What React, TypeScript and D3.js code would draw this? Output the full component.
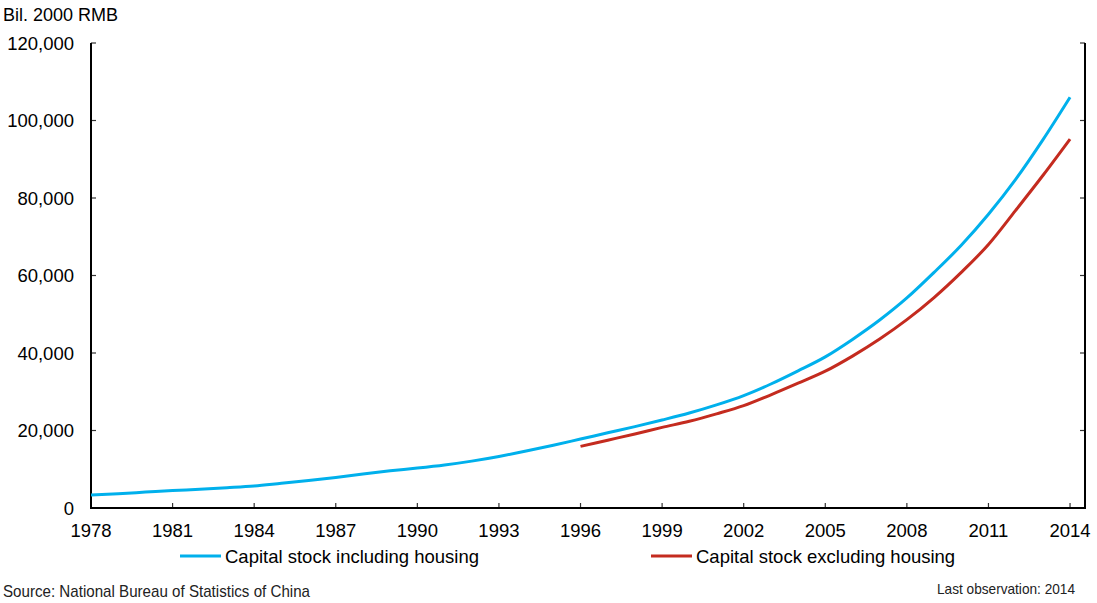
import React, { useEffect, useRef } from 'react';
import * as d3 from 'd3';

const years = d3.range(1978, 2015);

// Bil. 2000 RMB
const withHousing = [
  3350, 3700, 4100, 4500, 4850, 5250, 5700, 6400, 7100, 7900,
  8800, 9600, 10300, 11100, 12100, 13300, 14700, 16200, 17800, 19400,
  21000, 22700, 24500, 26600, 29000, 32000, 35400, 39000, 43500, 48500,
  54200, 60800, 67800, 75800, 84800, 95000, 106000,
];

const excludingYears = d3.range(1996, 2015);
const withoutHousing = [
  15900, 17500, 19100, 20800, 22400, 24300, 26400, 29200, 32200, 35300,
  39200, 43600, 48600, 54300, 60800, 68000, 76800, 85800, 95200,
];

const xTicks = d3.range(1978, 2015, 3);
const yTicks = [0, 20000, 40000, 60000, 80000, 100000, 120000];

const BLUE = '#00b0ec';
const RED = '#c42b1f';
const FONT = 'Liberation Sans, Arial, sans-serif';

const App: React.FC = () => {
  const svgRef = useRef<SVGSVGElement>(null);

  useEffect(() => {
    if (!svgRef.current) return;
    const width = 1097;
    const height = 603;
    const left = 91;
    const right = 1085;
    const top = 43;
    const bottom = 508;

    const svg = d3.select(svgRef.current)
      .attr('width', width)
      .attr('height', height)
      .html('');

    const x = d3.scaleLinear().domain([1978, 2014.55]).range([left, right]);
    const y = d3.scaleLinear().domain([0, 120000]).range([bottom, top]);

    // ticks
    const yt = svg.append('g');
    yTicks.forEach(t => {
      yt.append('line')
        .attr('x1', left).attr('x2', left + 5)
        .attr('y1', y(t)).attr('y2', y(t))
        .attr('stroke', '#333').attr('stroke-width', 1.2);
      yt.append('line')
        .attr('x1', right).attr('x2', right - 5)
        .attr('y1', y(t)).attr('y2', y(t))
        .attr('stroke', '#333').attr('stroke-width', 1.2);
      yt.append('text')
        .attr('x', 74)
        .attr('y', y(t) + 6.5)
        .attr('text-anchor', 'end')
        .attr('font-family', FONT)
        .attr('font-size', 18.5)
        .attr('fill', '#000')
        .text(d3.format(',')(t));
    });

    xTicks.forEach(t => {
      svg.append('line')
        .attr('x1', x(t)).attr('x2', x(t))
        .attr('y1', bottom).attr('y2', bottom - 5)
        .attr('stroke', '#333').attr('stroke-width', 1.2);
      svg.append('text')
        .attr('x', x(t))
        .attr('y', 537)
        .attr('text-anchor', 'middle')
        .attr('font-family', FONT)
        .attr('font-size', 18.5)
        .attr('fill', '#000')
        .text(t);
    });

    // axis frame: left, bottom, right
    svg.append('path')
      .attr('d', `M${left},${top}V${bottom}H${right}V${top}`)
      .attr('fill', 'none')
      .attr('stroke', '#000')
      .attr('stroke-width', 2);

    const line = d3.line<[number, number]>()
      .x(d => x(d[0]))
      .y(d => y(d[1]))
      .curve(d3.curveMonotoneX);

    svg.append('path')
      .datum(years.map((yr, i) => [yr, withHousing[i]] as [number, number]))
      .attr('fill', 'none')
      .attr('stroke', BLUE)
      .attr('stroke-width', 3)
      .attr('d', line);

    svg.append('path')
      .datum(excludingYears.map((yr, i) => [yr, withoutHousing[i]] as [number, number]))
      .attr('fill', 'none')
      .attr('stroke', RED)
      .attr('stroke-width', 3)
      .attr('d', line);

    // unit label
    svg.append('text')
      .attr('x', 3).attr('y', 21)
      .attr('font-family', FONT).attr('font-size', 18)
      .text('Bil. 2000 RMB');

    // legend
    const legend = [
      { label: 'Capital stock including housing', color: BLUE, x0: 180 },
      { label: 'Capital stock excluding housing', color: RED, x0: 651 },
    ];
    legend.forEach(l => {
      svg.append('line')
        .attr('x1', l.x0).attr('x2', l.x0 + 41)
        .attr('y1', 556).attr('y2', 556)
        .attr('stroke', l.color).attr('stroke-width', 3);
      svg.append('text')
        .attr('x', l.x0 + 45).attr('y', 562.5)
        .attr('font-family', FONT).attr('font-size', 18.5)
        .text(l.label);
    });

    svg.append('text')
      .attr('x', 3).attr('y', 597)
      .attr('font-family', FONT).attr('font-size', 17)
      .attr('textLength', 307).attr('lengthAdjust', 'spacingAndGlyphs')
      .attr('fill', '#222')
      .text('Source: National Bureau of Statistics of China');

    svg.append('text')
      .attr('x', 937).attr('y', 594)
      .attr('font-family', FONT).attr('font-size', 15)
      .attr('textLength', 138).attr('lengthAdjust', 'spacingAndGlyphs')
      .attr('fill', '#222')
      .text('Last observation: 2014');
  }, []);

  return (
    <svg
      ref={svgRef}
      style={{ position: 'absolute', left: 0, top: 0, background: '#fff' }}
    />
  );
};

export default App;
